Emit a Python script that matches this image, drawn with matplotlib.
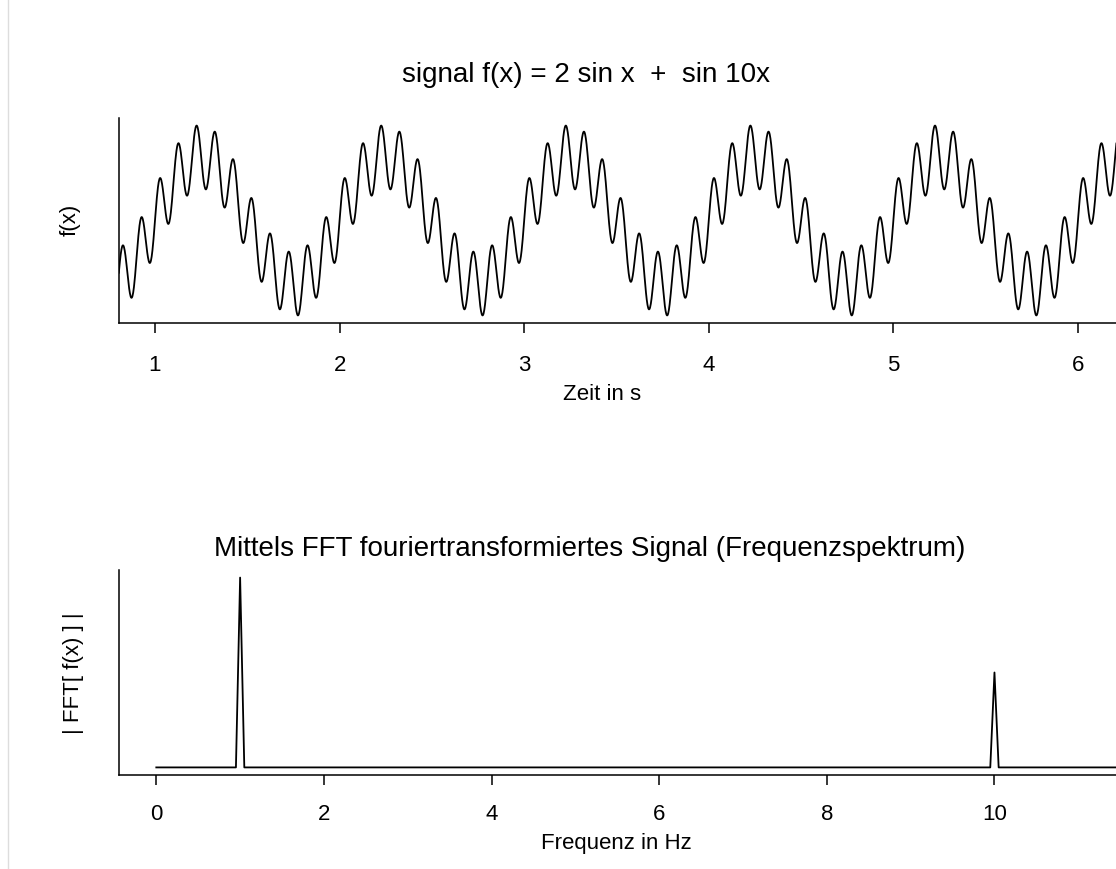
import numpy as np
import matplotlib
matplotlib.use("Agg")
import matplotlib.pyplot as plt
from matplotlib.lines import Line2D

# signal components: f(t) = 2 sin(2*pi*1*t) + sin(2*pi*10*t)
AMPLITUDES = [2.0, 1.0]
FREQS_HZ = [1.0, 10.0]
DURATION_S = 20.0
SAMPLE_RATE = 500.0

TIME_TICKS = [1, 2, 3, 4, 5, 6]
FREQ_TICKS = [0, 2, 4, 6, 8, 10]

plt.rcParams["font.family"] = ["Liberation Sans", "DejaVu Sans"]

t = np.arange(0, DURATION_S, 1.0 / SAMPLE_RATE)
sig = sum(a * np.sin(2 * np.pi * f * t) for a, f in zip(AMPLITUDES, FREQS_HZ))

spec = np.abs(np.fft.rfft(sig))
freqs = np.fft.rfftfreq(len(sig), d=1.0 / SAMPLE_RATE)
keep = freqs <= 12.0

W, H = 1116, 869
fig = plt.figure(figsize=(W / 100, H / 100), dpi=100)


def px(x, y):
    # pixel position (from top-left) -> figure fraction
    return x / W, 1 - y / H


def r_style(ax, pad):
    for side in ("top", "right"):
        ax.spines[side].set_visible(False)
    for side in ("left", "bottom"):
        ax.spines[side].set_linewidth(1.1)
    ax.set_yticks([])
    ax.tick_params(axis="x", direction="out", length=7, width=1.1,
                   pad=pad, labelsize=16)


# top: time signal
ax1 = fig.add_axes([119 / W, 1 - 323 / H, 1 - 119 / W, 205 / H])
ax1.plot(t, sig, color="black", lw=1.3)
ax1.set_xlim(0.805, 6.206)
lo, hi = sig.min(), sig.max()
pad = 0.04 * (hi - lo)
ax1.set_ylim(lo - pad, hi + pad)
ax1.set_xticks(TIME_TICKS)
r_style(ax1, pad=16)

fig.text(*px(586, 75), "signal f(x) = 2 sin x  +  sin 10x", fontsize=20,
         ha="center", va="center")
fig.text(*px(602, 394), "Zeit in s", fontsize=16, ha="center", va="center")
fig.text(*px(70, 220), "f(x)", fontsize=16, rotation=90,
         ha="center", va="center")

# bottom: magnitude spectrum
ax2 = fig.add_axes([119 / W, 1 - 775 / H, 1 - 119 / W, 205 / H])
ax2.plot(freqs[keep], spec[keep], color="black", lw=1.3)
ax2.set_xlim(-0.445, 11.45)
top = spec[keep].max()
ax2.set_ylim(-0.04 * top, 1.04 * top)
ax2.set_xticks(FREQ_TICKS)
r_style(ax2, pad=14)

fig.text(*px(590, 549),
         "Mittels FFT fouriertransformiertes Signal (Frequenzspektrum)",
         fontsize=20, ha="center", va="center")
fig.text(*px(616, 843), "Frequenz in Hz", fontsize=16,
         ha="center", va="center")
fig.text(*px(73, 673), "| FFT[ f(x) ] |", fontsize=16, rotation=90,
         ha="center", va="center")

# thin page border on the left
fig.add_artist(Line2D([8 / W, 8 / W], [0, 1], color="#dddddd", lw=1.0))

fig.savefig("out.png", dpi=100)
